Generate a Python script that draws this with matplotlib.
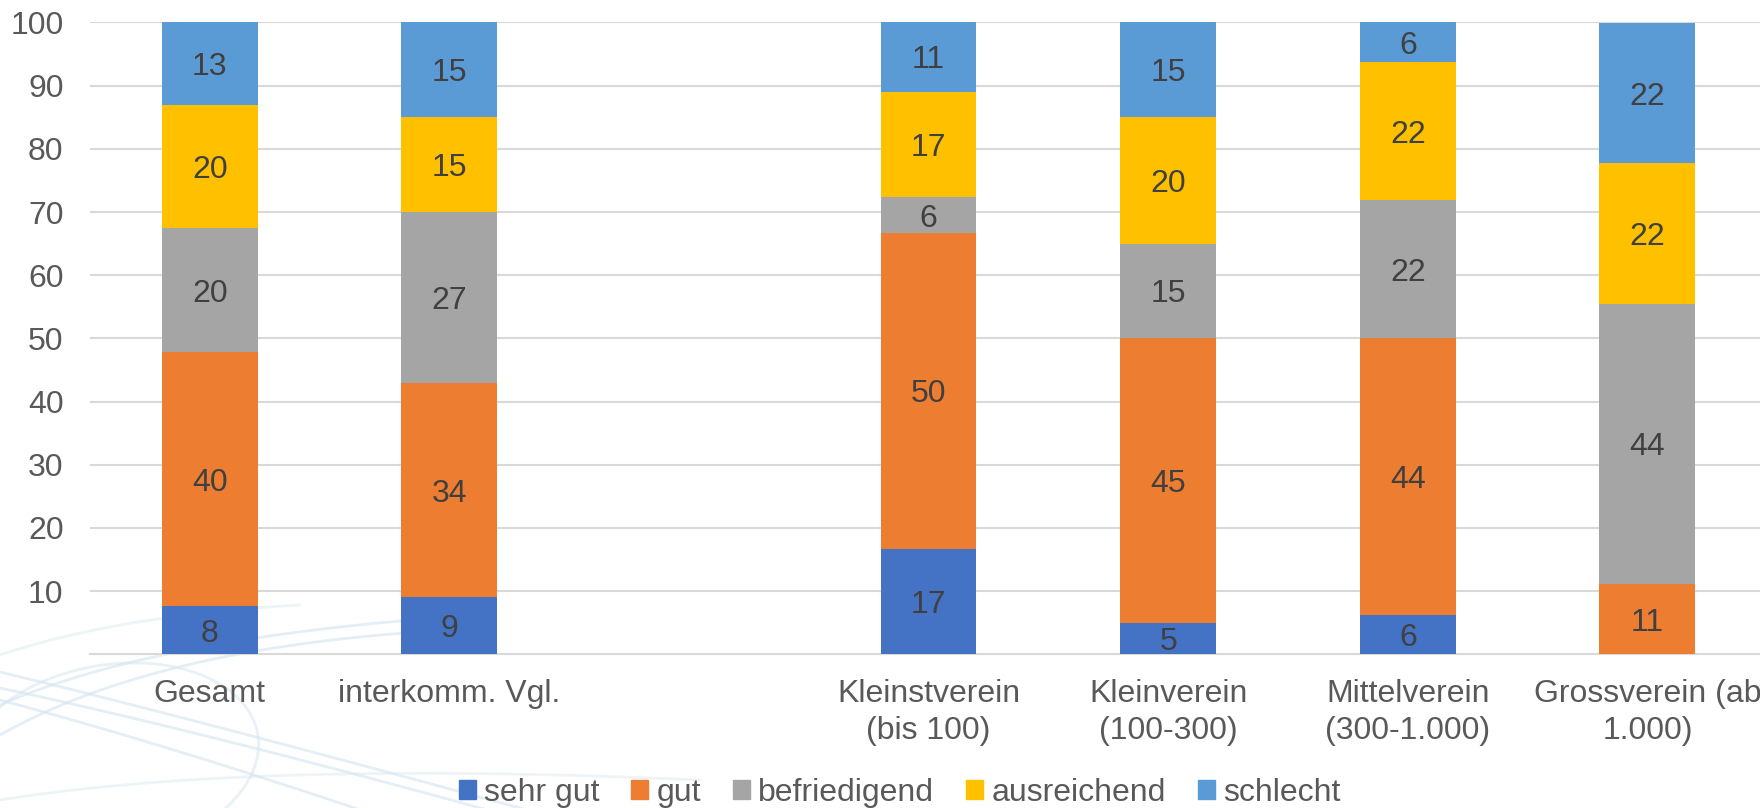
import numpy as np
import matplotlib.pyplot as plt
from matplotlib.patches import Rectangle, Ellipse

plt.rcParams['font.family'] = ['Liberation Sans', 'DejaVu Sans']

categories = ['Gesamt', 'interkomm. Vgl.', '', 'Kleinstverein\n(bis 100)',
              'Kleinverein\n(100-300)', 'Mittelverein\n(300-1.000)', 'Grossverein (ab\n1.000)']
series = ['sehr gut', 'gut', 'befriedigend', 'ausreichend', 'schlecht']
colors = ['#4472C4', '#ED7D31', '#A5A5A5', '#FFC000', '#5B9BD5']

# Prozentwerte je Kategorie (leere Spalte als Abstand)
sehr_gut     = [7.6, 9.0, 0, 16.7, 5.0, 6.25, 0.0]
gut          = [40.2, 33.9, 0, 50.0, 45.0, 43.75, 11.1]
befriedigend = [19.6, 27.1, 0, 5.6, 15.0, 21.875, 44.4]
ausreichend  = [19.5, 15.0, 0, 16.7, 20.0, 21.875, 22.2]
schlecht     = [13.1, 15.0, 0, 11.1, 15.0, 6.25, 22.2]
values = [sehr_gut, gut, befriedigend, ausreichend, schlecht]

fig = plt.figure(figsize=(17.6, 8.08), dpi=100)

# dezente Hintergrund-Schwuenge unten links (Folienhintergrund)
bg = fig.add_axes([0, 0, 1, 1])
bg.set_xlim(0, 1760)
bg.set_ylim(808, 0)
bg.axis('off')

def bez(p0, p1, p2, **kw):
    t = np.linspace(0, 1, 60)[:, None]
    pts = (1 - t) ** 2 * np.array(p0) + 2 * (1 - t) * t * np.array(p1) + t ** 2 * np.array(p2)
    bg.plot(pts[:, 0], pts[:, 1], **kw)

sw = dict(color='#d3e4ef', lw=2.0, alpha=0.6, solid_capstyle='round')
bez((0, 672), (200, 720), (600, 830), **sw)
bez((0, 688), (220, 735), (560, 830), **sw)
bez((0, 700), (180, 748), (420, 830), **sw)
bez((0, 735), (150, 650), (420, 632), **sw)
bez((0, 705), (160, 635), (480, 615), **sw)
bez((0, 655), (120, 615), (300, 605), **dict(sw, alpha=0.4))
bez((0, 800), (250, 760), (700, 780), **dict(sw, alpha=0.4))
bg.add_patch(Ellipse((110, 760), 300, 190, angle=-10, fill=False,
                     ec='#d3e4ef', lw=2.0, alpha=0.5))

ax = fig.add_axes([0.0511, 0.1902, 0.953, 0.782])
x = np.arange(len(categories))
bottom = np.zeros(len(categories))
for name, vals, col in zip(series, values, colors):
    vals = np.array(vals)
    ax.bar(x, vals, 0.4, bottom=bottom, color=col, label=name, zorder=3)
    for xi, b, v in zip(x, bottom, vals):
        if v > 0:
            ax.annotate(f'{v:.0f}', (xi, b + v / 2), xytext=(0, -2.5), textcoords='offset points',
                        ha='center', va='center', fontsize=23, color='#404040', zorder=4)
    bottom += vals

ax.set_xlim(-0.5, 6.5)
ax.set_ylim(0, 100)
ax.set_yticks(range(10, 101, 10))
ax.set_xticks(x)
ax.set_xticklabels(categories, linespacing=1.3)
ax.tick_params(axis='y', length=0, pad=19, labelsize=23, labelcolor='#595959')
ax.tick_params(axis='x', length=0, pad=18, labelsize=23, labelcolor='#595959')
ax.grid(axis='y', color='#d9d9d9', lw=1.5, zorder=0)
for s in ['top', 'right', 'left']:
    ax.spines[s].set_visible(False)
ax.spines['bottom'].set_color('#d9d9d9')
ax.spines['bottom'].set_linewidth(1.5)
ax.patch.set_alpha(0)

handles = [Rectangle((0, 0), 1, 1, color=c) for c in colors]
fig.legend(handles, series, loc='center', bbox_to_anchor=(0.511, 0.019), ncol=5,
           frameon=False, fontsize=23, handlelength=0.54, handleheight=0.54,
           handletextpad=0.25, columnspacing=1.0, labelcolor='#595959')

fig.savefig('out.png', dpi=100)
